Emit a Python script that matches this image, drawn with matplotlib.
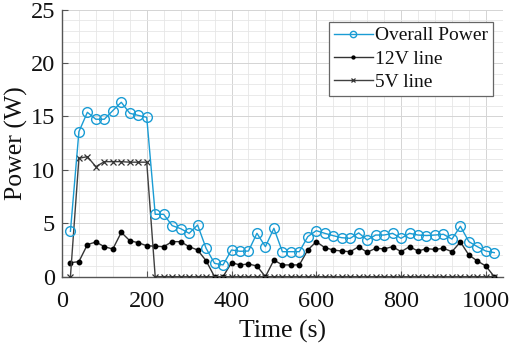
import matplotlib
matplotlib.use("Agg")
import matplotlib.pyplot as plt
from matplotlib.ticker import MultipleLocator

time_s = [20, 40, 60, 80, 100, 120, 140, 160, 180, 200,
          220, 240, 260, 280, 300, 320, 340, 360, 380, 400,
          420, 440, 460, 480, 500, 520, 540, 560, 580, 600,
          620, 640, 660, 680, 700, 720, 740, 760, 780, 800,
          820, 840, 860, 880, 900, 920, 940, 960, 980, 1000, 1020]

overall_power = [4.25, 13.58, 15.39, 14.74, 14.74, 15.55, 16.33, 15.3, 15.1, 14.92,
                 5.84, 5.84, 4.78, 4.5, 4.06, 4.84, 2.66, 1.25, 1.1, 2.5,
                 2.38, 2.4, 4.06, 2.81, 4.53, 2.34, 2.34, 2.34, 3.75, 4.31,
                 4.06, 3.84, 3.65, 3.59, 4.1, 3.44, 3.9, 3.9, 4.06, 3.59,
                 4.06, 3.9, 3.85, 3.9, 3.97, 3.52, 4.72, 3.28, 2.81, 2.4, 2.25]

line_12v = [1.31, 1.41, 3.0, 3.25, 2.81, 2.59, 4.15, 3.37, 3.18, 2.9,
            2.85, 2.81, 3.28, 3.28, 2.81, 2.5, 1.5, 0.0, 0.0, 1.31,
            1.1, 1.19, 1.0, 0.0, 1.56, 1.1, 1.1, 1.1, 2.5, 3.28,
            2.72, 2.5, 2.4, 2.34, 2.81, 2.28, 2.66, 2.6, 2.81, 2.34,
            2.81, 2.4, 2.63, 2.55, 2.66, 2.34, 3.25, 2.03, 1.47, 1.0, 0.0]

line_5v = [0.0, 11.08, 11.24, 10.3, 10.77, 10.77, 10.77, 10.72, 10.72, 10.72,
           0.0, 0.0, 0.0, 0.0, 0.0, 0.0, 0.0, 0.0, 0.0, 0.0,
           0.0, 0.0, 0.0, 0.0, 0.0, 0.0, 0.0, 0.0, 0.0, 0.0,
           0.0, 0.0, 0.0, 0.0, 0.0, 0.0, 0.0, 0.0, 0.0, 0.0,
           0.0, 0.0, 0.0, 0.0, 0.0, 0.0, 0.0, 0.0, 0.0, 0.0, 0.0]

x_ticks = [0, 200, 400, 600, 800, 1000]
y_ticks = [0, 5, 10, 15, 20, 25]

plt.rcParams['font.family'] = ['Liberation Serif', 'DejaVu Serif']
plt.rcParams['mathtext.fontset'] = 'stix'

fig = plt.figure(figsize=(5.12, 3.45), dpi=100)
ax = fig.add_axes([0.121, 0.198, 0.861, 0.774])

blue = '#1a9cd4'
ax.plot(time_s, overall_power, color=blue, lw=1.0, marker='o', ms=7,
        mfc='none', mec=blue, mew=1.0, label='Overall Power', zorder=4)
ax.plot(time_s, line_12v, color='#333333', lw=1.0, marker='o', ms=3.2,
        mfc='black', mec='black', label='12V line', zorder=3)
ax.plot(time_s, line_5v, color='#404040', lw=1.0, marker='x', ms=5,
        mec='#333333', mew=0.9, label='5V line', zorder=3)

ax.set_xlim(0, 1040)
ax.set_ylim(0, 25)
ax.set_xticks(x_ticks)
ax.set_yticks(y_ticks)
ax.xaxis.set_minor_locator(MultipleLocator(40))
ax.yaxis.set_minor_locator(MultipleLocator(1))
ax.grid(which='major', color='#d4d4d4', lw=0.7)
ax.grid(which='minor', color='#e6e6e6', lw=0.6)
ax.set_axisbelow(True)

for s in ['top', 'right']:
    ax.spines[s].set_visible(False)
for s in ['left', 'bottom']:
    ax.spines[s].set_color('#555555')
    ax.spines[s].set_linewidth(1.0)

ax.tick_params(which='major', direction='in', length=4, color='#555555',
               labelsize=17.5, labelcolor='#111111')
ax.tick_params(axis='x', which='major', pad=10)
ax.tick_params(axis='y', which='major', pad=5)
ax.tick_params(which='minor', length=0)

ax.set_xlabel('Time (s)', fontsize=18.5, color='#111111', labelpad=6)
ax.set_ylabel('Power (W)', fontsize=18.5, color='#111111', labelpad=2)

leg = ax.legend(loc='upper right', bbox_to_anchor=(0.977, 0.954), fontsize=14,
                frameon=True, fancybox=False, framealpha=1, edgecolor='#666666',
                handlelength=2.0, handletextpad=0.1, borderpad=0.25,
                labelspacing=0.3, borderaxespad=0, markerscale=0.65)
leg.get_frame().set_linewidth(0.9)
for t in leg.get_texts():
    t.set_color('#111111')

fig.savefig('out.png', dpi=100)
